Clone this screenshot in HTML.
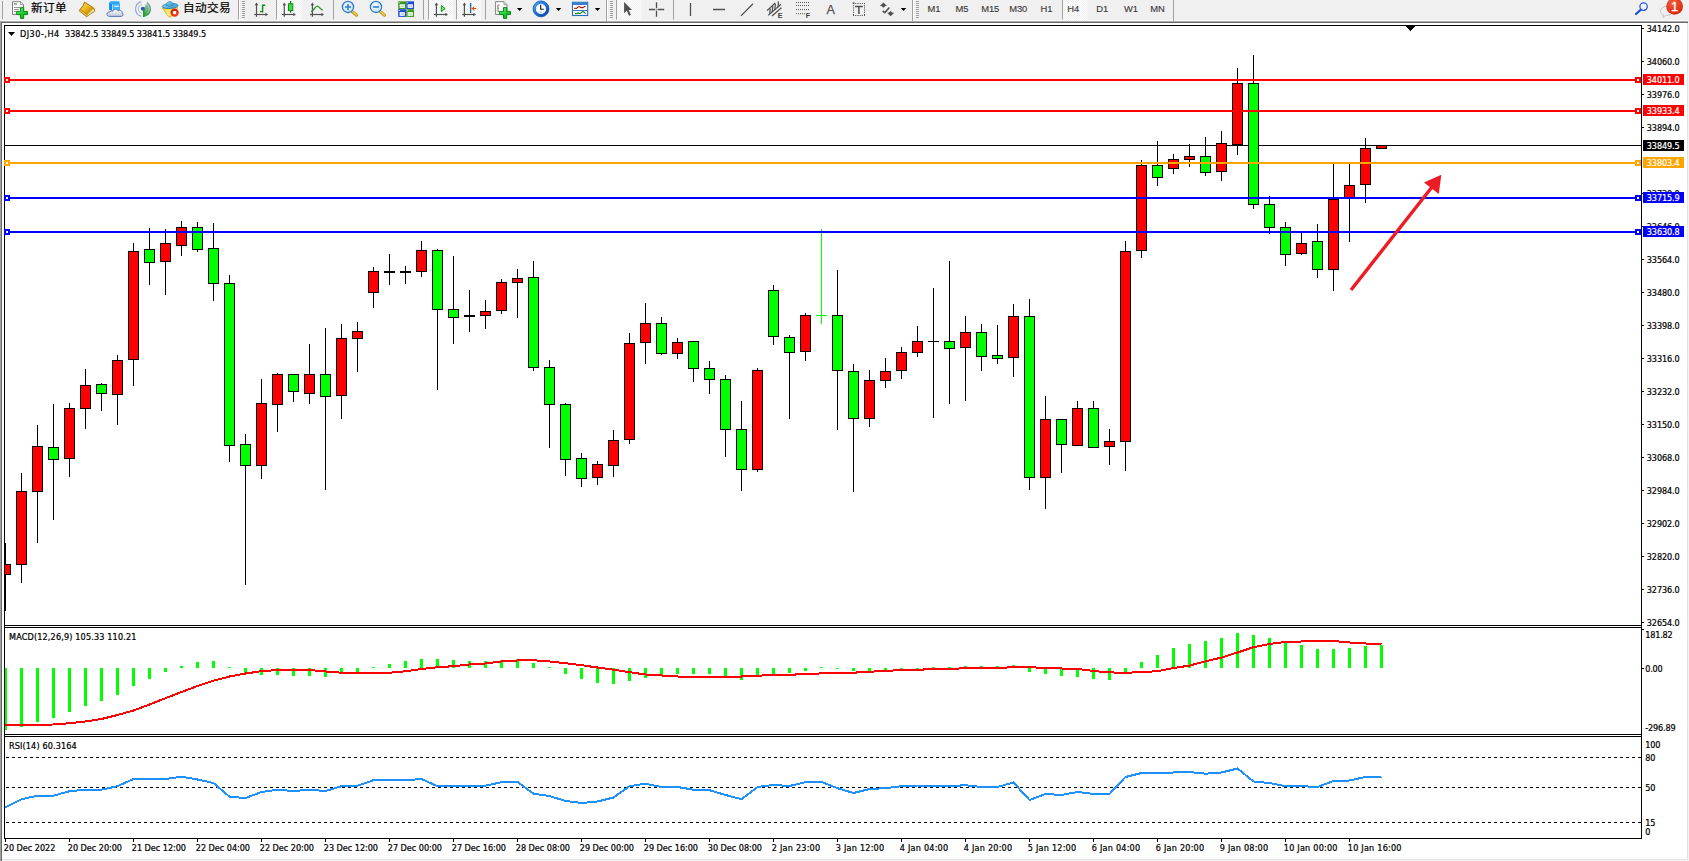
<!DOCTYPE html>
<html lang="zh"><head><meta charset="utf-8"><title>DJ30-,H4</title>
<style>
html,body{margin:0;padding:0;background:#fff;}
body{width:1689px;height:861px;overflow:hidden;position:relative;font-family:"Liberation Sans","Noto Sans CJK SC",sans-serif;}
svg{position:absolute;left:0;top:0;display:block}
text{font-family:"DejaVu Sans Condensed","Liberation Sans","Noto Sans CJK SC",sans-serif;font-size:9px;letter-spacing:-0.06px;fill:#000;stroke:#000;stroke-width:0.22px}
.lib{font-family:"Liberation Sans","Noto Sans CJK SC",sans-serif}
.w{fill:#fff;stroke:#fff}
.tb{font-family:"Liberation Sans","Noto Sans CJK SC",sans-serif;font-size:11.6px;fill:#000;letter-spacing:0.42px;stroke:#000;stroke-width:0.2px}
.tf{font-family:"Liberation Sans","Noto Sans CJK SC",sans-serif;stroke-width:0.15px;font-size:9.4px;letter-spacing:-0.1px;fill:#3c3c3c;stroke:#3c3c3c}
.cr{shape-rendering:crispEdges}
</style></head><body>
<svg width="1689" height="861" viewBox="0 0 1689 861">
<rect x="0" y="0" width="1689" height="861" fill="#f0f0f0"/>
<rect x="0" y="20" width="1688" height="1" fill="#f8f8f8"/>
<rect x="0" y="21" width="1688" height="1" fill="#aaaaaa"/>
<rect x="0" y="22" width="1688" height="1" fill="#6c6c6c"/>
<rect x="0" y="22" width="1" height="839" fill="#a0a0a0"/>
<rect x="1" y="22" width="1" height="839" fill="#696969"/>
<rect x="2" y="23" width="1685" height="836" fill="#fff"/>
<rect x="1687" y="23" width="1" height="837" fill="#e3e3e3"/>
<rect x="2" y="859" width="1686" height="1" fill="#e3e3e3"/>
<rect x="2" y="860" width="1687" height="1" fill="#f4f4f4"/>
<rect x="1688" y="22" width="1" height="839" fill="#f4f4f4"/>
<g class="cr" fill="#000">
<rect x="4" y="25" width="1" height="814"/>
<rect x="1641" y="25" width="1" height="814"/>
<rect x="4" y="25" width="1638" height="1"/>
<rect x="4" y="625" width="1638" height="1"/>
<rect x="4" y="627" width="1638" height="1"/>
<rect x="4" y="734" width="1638" height="1"/>
<rect x="4" y="736" width="1638" height="1"/>
<rect x="4" y="838" width="1638" height="1"/>
</g>
<path class="cr" d="M1405.5 26 L1415.5 26 L1410.5 31 Z" fill="#000"/>
<rect class="cr" x="5" y="145" width="1636" height="1" fill="#000"/>
<g class="cr">
<rect x="5.0" y="543" width="1" height="68.0" fill="#000"/>
<rect x="5" y="564" width="5.5" height="11.0" fill="#000"/>
<rect x="5" y="565.0" width="4.5" height="9.0" fill="#ff0000"/>
<rect x="21.0" y="473" width="1" height="110.0" fill="#000"/>
<rect x="16.0" y="491" width="11" height="74.0" fill="#000"/>
<rect x="17.0" y="492.0" width="9" height="72.0" fill="#ff0000"/>
<rect x="37.0" y="425" width="1" height="118.0" fill="#000"/>
<rect x="32.0" y="446" width="11" height="46.0" fill="#000"/>
<rect x="33.0" y="447.0" width="9" height="44.0" fill="#ff0000"/>
<rect x="53.0" y="404" width="1" height="116.0" fill="#000"/>
<rect x="48.0" y="447" width="11" height="13.0" fill="#000"/>
<rect x="49.0" y="448.0" width="9" height="11.0" fill="#00ff00"/>
<rect x="69.0" y="403" width="1" height="74.0" fill="#000"/>
<rect x="64.0" y="408" width="11" height="51.0" fill="#000"/>
<rect x="65.0" y="409.0" width="9" height="49.0" fill="#ff0000"/>
<rect x="85.0" y="369" width="1" height="60.0" fill="#000"/>
<rect x="80.0" y="385" width="11" height="24.0" fill="#000"/>
<rect x="81.0" y="386.0" width="9" height="22.0" fill="#ff0000"/>
<rect x="101.0" y="383" width="1" height="28.0" fill="#000"/>
<rect x="96.0" y="384" width="11" height="10.0" fill="#000"/>
<rect x="97.0" y="385.0" width="9" height="8.0" fill="#00ff00"/>
<rect x="117.0" y="355" width="1" height="70.0" fill="#000"/>
<rect x="112.0" y="360" width="11" height="35.0" fill="#000"/>
<rect x="113.0" y="361.0" width="9" height="33.0" fill="#ff0000"/>
<rect x="133.0" y="243" width="1" height="143.0" fill="#000"/>
<rect x="128.0" y="251" width="11" height="109.0" fill="#000"/>
<rect x="129.0" y="252.0" width="9" height="107.0" fill="#ff0000"/>
<rect x="149.0" y="228" width="1" height="57.0" fill="#000"/>
<rect x="144.0" y="249" width="11" height="14.0" fill="#000"/>
<rect x="145.0" y="250.0" width="9" height="12.0" fill="#00ff00"/>
<rect x="165.0" y="229" width="1" height="66.0" fill="#000"/>
<rect x="160.0" y="243" width="11" height="19.0" fill="#000"/>
<rect x="161.0" y="244.0" width="9" height="17.0" fill="#ff0000"/>
<rect x="181.0" y="221" width="1" height="35.0" fill="#000"/>
<rect x="176.0" y="227" width="11" height="19.0" fill="#000"/>
<rect x="177.0" y="228.0" width="9" height="17.0" fill="#ff0000"/>
<rect x="197.0" y="222" width="1" height="30.0" fill="#000"/>
<rect x="192.0" y="227" width="11" height="23.0" fill="#000"/>
<rect x="193.0" y="228.0" width="9" height="21.0" fill="#00ff00"/>
<rect x="213.0" y="223" width="1" height="78.0" fill="#000"/>
<rect x="208.0" y="248" width="11" height="36.0" fill="#000"/>
<rect x="209.0" y="249.0" width="9" height="34.0" fill="#00ff00"/>
<rect x="229.0" y="275" width="1" height="187.0" fill="#000"/>
<rect x="224.0" y="283" width="11" height="163.0" fill="#000"/>
<rect x="225.0" y="284.0" width="9" height="161.0" fill="#00ff00"/>
<rect x="245.0" y="434" width="1" height="151.0" fill="#000"/>
<rect x="240.0" y="444" width="11" height="22.0" fill="#000"/>
<rect x="241.0" y="445.0" width="9" height="20.0" fill="#00ff00"/>
<rect x="261.0" y="379" width="1" height="100.0" fill="#000"/>
<rect x="256.0" y="403" width="11" height="63.0" fill="#000"/>
<rect x="257.0" y="404.0" width="9" height="61.0" fill="#ff0000"/>
<rect x="277.0" y="373" width="1" height="59.0" fill="#000"/>
<rect x="272.0" y="374" width="11" height="31.0" fill="#000"/>
<rect x="273.0" y="375.0" width="9" height="29.0" fill="#ff0000"/>
<rect x="293.0" y="374" width="1" height="28.0" fill="#000"/>
<rect x="288.0" y="374" width="11" height="18.0" fill="#000"/>
<rect x="289.0" y="375.0" width="9" height="16.0" fill="#00ff00"/>
<rect x="309.0" y="344" width="1" height="60.0" fill="#000"/>
<rect x="304.0" y="374" width="11" height="20.0" fill="#000"/>
<rect x="305.0" y="375.0" width="9" height="18.0" fill="#ff0000"/>
<rect x="325.0" y="328" width="1" height="162.0" fill="#000"/>
<rect x="320.0" y="374" width="11" height="23.0" fill="#000"/>
<rect x="321.0" y="375.0" width="9" height="21.0" fill="#00ff00"/>
<rect x="341.0" y="324" width="1" height="95.0" fill="#000"/>
<rect x="336.0" y="338" width="11" height="58.0" fill="#000"/>
<rect x="337.0" y="339.0" width="9" height="56.0" fill="#ff0000"/>
<rect x="357.0" y="322" width="1" height="50.0" fill="#000"/>
<rect x="352.0" y="331" width="11" height="8.0" fill="#000"/>
<rect x="353.0" y="332.0" width="9" height="6.0" fill="#ff0000"/>
<rect x="373.0" y="267" width="1" height="41.0" fill="#000"/>
<rect x="368.0" y="271" width="11" height="22.0" fill="#000"/>
<rect x="369.0" y="272.0" width="9" height="20.0" fill="#ff0000"/>
<rect x="389.0" y="254" width="1" height="31.0" fill="#000"/>
<rect x="384.0" y="270.7" width="11" height="2.0" fill="#000"/>
<rect x="405.0" y="266" width="1" height="18.0" fill="#000"/>
<rect x="400.0" y="270.7" width="11" height="2.0" fill="#000"/>
<rect x="421.0" y="241" width="1" height="36.0" fill="#000"/>
<rect x="416.0" y="250" width="11" height="22.0" fill="#000"/>
<rect x="417.0" y="251.0" width="9" height="20.0" fill="#ff0000"/>
<rect x="437.0" y="249" width="1" height="141.0" fill="#000"/>
<rect x="432.0" y="250" width="11" height="60.0" fill="#000"/>
<rect x="433.0" y="251.0" width="9" height="58.0" fill="#00ff00"/>
<rect x="453.0" y="256" width="1" height="88.0" fill="#000"/>
<rect x="448.0" y="309" width="11" height="9.0" fill="#000"/>
<rect x="449.0" y="310.0" width="9" height="7.0" fill="#00ff00"/>
<rect x="469.0" y="290" width="1" height="42.0" fill="#000"/>
<rect x="464.0" y="315" width="11" height="2.0" fill="#000"/>
<rect x="485.0" y="300" width="1" height="29.0" fill="#000"/>
<rect x="480.0" y="311" width="11" height="5.0" fill="#000"/>
<rect x="481.0" y="312.0" width="9" height="3.0" fill="#ff0000"/>
<rect x="501.0" y="279" width="1" height="35.0" fill="#000"/>
<rect x="496.0" y="282" width="11" height="29.0" fill="#000"/>
<rect x="497.0" y="283.0" width="9" height="27.0" fill="#ff0000"/>
<rect x="517.0" y="269" width="1" height="49.0" fill="#000"/>
<rect x="512.0" y="278" width="11" height="5.0" fill="#000"/>
<rect x="513.0" y="279.0" width="9" height="3.0" fill="#ff0000"/>
<rect x="533.0" y="261" width="1" height="110.0" fill="#000"/>
<rect x="528.0" y="277" width="11" height="91.0" fill="#000"/>
<rect x="529.0" y="278.0" width="9" height="89.0" fill="#00ff00"/>
<rect x="549.0" y="360" width="1" height="88.0" fill="#000"/>
<rect x="544.0" y="367" width="11" height="38.0" fill="#000"/>
<rect x="545.0" y="368.0" width="9" height="36.0" fill="#00ff00"/>
<rect x="565.0" y="403" width="1" height="73.0" fill="#000"/>
<rect x="560.0" y="404" width="11" height="56.0" fill="#000"/>
<rect x="561.0" y="405.0" width="9" height="54.0" fill="#00ff00"/>
<rect x="581.0" y="453" width="1" height="34.0" fill="#000"/>
<rect x="576.0" y="458" width="11" height="21.0" fill="#000"/>
<rect x="577.0" y="459.0" width="9" height="19.0" fill="#00ff00"/>
<rect x="597.0" y="461" width="1" height="24.0" fill="#000"/>
<rect x="592.0" y="464" width="11" height="14.0" fill="#000"/>
<rect x="593.0" y="465.0" width="9" height="12.0" fill="#ff0000"/>
<rect x="613.0" y="430" width="1" height="47.0" fill="#000"/>
<rect x="608.0" y="440" width="11" height="26.0" fill="#000"/>
<rect x="609.0" y="441.0" width="9" height="24.0" fill="#ff0000"/>
<rect x="629.0" y="333" width="1" height="111.0" fill="#000"/>
<rect x="624.0" y="343" width="11" height="97.0" fill="#000"/>
<rect x="625.0" y="344.0" width="9" height="95.0" fill="#ff0000"/>
<rect x="645.0" y="303" width="1" height="61.0" fill="#000"/>
<rect x="640.0" y="323" width="11" height="20.0" fill="#000"/>
<rect x="641.0" y="324.0" width="9" height="18.0" fill="#ff0000"/>
<rect x="661.0" y="317" width="1" height="38.0" fill="#000"/>
<rect x="656.0" y="323" width="11" height="31.0" fill="#000"/>
<rect x="657.0" y="324.0" width="9" height="29.0" fill="#00ff00"/>
<rect x="677.0" y="338" width="1" height="21.0" fill="#000"/>
<rect x="672.0" y="342" width="11" height="12.0" fill="#000"/>
<rect x="673.0" y="343.0" width="9" height="10.0" fill="#ff0000"/>
<rect x="693.0" y="341" width="1" height="41.0" fill="#000"/>
<rect x="688.0" y="341" width="11" height="28.0" fill="#000"/>
<rect x="689.0" y="342.0" width="9" height="26.0" fill="#00ff00"/>
<rect x="709.0" y="361" width="1" height="33.0" fill="#000"/>
<rect x="704.0" y="368" width="11" height="12.0" fill="#000"/>
<rect x="705.0" y="369.0" width="9" height="10.0" fill="#00ff00"/>
<rect x="725.0" y="375" width="1" height="82.0" fill="#000"/>
<rect x="720.0" y="379" width="11" height="51.0" fill="#000"/>
<rect x="721.0" y="380.0" width="9" height="49.0" fill="#00ff00"/>
<rect x="741.0" y="401" width="1" height="90.0" fill="#000"/>
<rect x="736.0" y="429" width="11" height="41.0" fill="#000"/>
<rect x="737.0" y="430.0" width="9" height="39.0" fill="#00ff00"/>
<rect x="757.0" y="368" width="1" height="104.0" fill="#000"/>
<rect x="752.0" y="370" width="11" height="100.0" fill="#000"/>
<rect x="753.0" y="371.0" width="9" height="98.0" fill="#ff0000"/>
<rect x="773.0" y="285" width="1" height="60.0" fill="#000"/>
<rect x="768.0" y="290" width="11" height="47.0" fill="#000"/>
<rect x="769.0" y="291.0" width="9" height="45.0" fill="#00ff00"/>
<rect x="789.0" y="335" width="1" height="84.0" fill="#000"/>
<rect x="784.0" y="337" width="11" height="16.0" fill="#000"/>
<rect x="785.0" y="338.0" width="9" height="14.0" fill="#00ff00"/>
<rect x="805.0" y="313" width="1" height="48.0" fill="#000"/>
<rect x="800.0" y="315" width="11" height="37.0" fill="#000"/>
<rect x="801.0" y="316.0" width="9" height="35.0" fill="#ff0000"/>
<rect x="821.0" y="229" width="1" height="95.0" fill="#00ff00"/>
<rect x="816.0" y="315" width="11" height="1" fill="#00ff00"/>
<rect x="837.0" y="270" width="1" height="160.0" fill="#000"/>
<rect x="832.0" y="315" width="11" height="56.0" fill="#000"/>
<rect x="833.0" y="316.0" width="9" height="54.0" fill="#00ff00"/>
<rect x="853.0" y="364" width="1" height="128.0" fill="#000"/>
<rect x="848.0" y="371" width="11" height="48.0" fill="#000"/>
<rect x="849.0" y="372.0" width="9" height="46.0" fill="#00ff00"/>
<rect x="869.0" y="370" width="1" height="57.0" fill="#000"/>
<rect x="864.0" y="380" width="11" height="39.0" fill="#000"/>
<rect x="865.0" y="381.0" width="9" height="37.0" fill="#ff0000"/>
<rect x="885.0" y="358" width="1" height="30.0" fill="#000"/>
<rect x="880.0" y="371" width="11" height="10.0" fill="#000"/>
<rect x="881.0" y="372.0" width="9" height="8.0" fill="#ff0000"/>
<rect x="901.0" y="347" width="1" height="32.0" fill="#000"/>
<rect x="896.0" y="352" width="11" height="19.0" fill="#000"/>
<rect x="897.0" y="353.0" width="9" height="17.0" fill="#ff0000"/>
<rect x="917.0" y="326" width="1" height="31.0" fill="#000"/>
<rect x="912.0" y="341" width="11" height="12.0" fill="#000"/>
<rect x="913.0" y="342.0" width="9" height="10.0" fill="#ff0000"/>
<rect x="933.0" y="288" width="1" height="130.0" fill="#000"/>
<rect x="928.0" y="341" width="11" height="1.0" fill="#000"/>
<rect x="949.0" y="261" width="1" height="143.0" fill="#000"/>
<rect x="944.0" y="341" width="11" height="8.0" fill="#000"/>
<rect x="945.0" y="342.0" width="9" height="6.0" fill="#00ff00"/>
<rect x="965.0" y="316" width="1" height="85.0" fill="#000"/>
<rect x="960.0" y="332" width="11" height="16.0" fill="#000"/>
<rect x="961.0" y="333.0" width="9" height="14.0" fill="#ff0000"/>
<rect x="981.0" y="324" width="1" height="47.0" fill="#000"/>
<rect x="976.0" y="332" width="11" height="25.0" fill="#000"/>
<rect x="977.0" y="333.0" width="9" height="23.0" fill="#00ff00"/>
<rect x="997.0" y="325" width="1" height="39.0" fill="#000"/>
<rect x="992.0" y="355" width="11" height="4.0" fill="#000"/>
<rect x="993.0" y="356.0" width="9" height="2.0" fill="#00ff00"/>
<rect x="1013.0" y="304" width="1" height="73.0" fill="#000"/>
<rect x="1008.0" y="316" width="11" height="42.0" fill="#000"/>
<rect x="1009.0" y="317.0" width="9" height="40.0" fill="#ff0000"/>
<rect x="1029.0" y="299" width="1" height="191.0" fill="#000"/>
<rect x="1024.0" y="316" width="11" height="162.0" fill="#000"/>
<rect x="1025.0" y="317.0" width="9" height="160.0" fill="#00ff00"/>
<rect x="1045.0" y="396" width="1" height="113.0" fill="#000"/>
<rect x="1040.0" y="419" width="11" height="59.0" fill="#000"/>
<rect x="1041.0" y="420.0" width="9" height="57.0" fill="#ff0000"/>
<rect x="1061.0" y="419" width="1" height="54.0" fill="#000"/>
<rect x="1056.0" y="419" width="11" height="26.0" fill="#000"/>
<rect x="1057.0" y="420.0" width="9" height="24.0" fill="#00ff00"/>
<rect x="1077.0" y="401" width="1" height="45.0" fill="#000"/>
<rect x="1072.0" y="408" width="11" height="38.0" fill="#000"/>
<rect x="1073.0" y="409.0" width="9" height="36.0" fill="#ff0000"/>
<rect x="1093.0" y="401" width="1" height="47.0" fill="#000"/>
<rect x="1088.0" y="408" width="11" height="40.0" fill="#000"/>
<rect x="1089.0" y="409.0" width="9" height="38.0" fill="#00ff00"/>
<rect x="1109.0" y="429" width="1" height="36.0" fill="#000"/>
<rect x="1104.0" y="441" width="11" height="6.0" fill="#000"/>
<rect x="1105.0" y="442.0" width="9" height="4.0" fill="#ff0000"/>
<rect x="1125.0" y="241" width="1" height="230.0" fill="#000"/>
<rect x="1120.0" y="251" width="11" height="191.0" fill="#000"/>
<rect x="1121.0" y="252.0" width="9" height="189.0" fill="#ff0000"/>
<rect x="1141.0" y="160" width="1" height="98.0" fill="#000"/>
<rect x="1136.0" y="165" width="11" height="86.0" fill="#000"/>
<rect x="1137.0" y="166.0" width="9" height="84.0" fill="#ff0000"/>
<rect x="1157.0" y="141" width="1" height="45.0" fill="#000"/>
<rect x="1152.0" y="165" width="11" height="13.0" fill="#000"/>
<rect x="1153.0" y="166.0" width="9" height="11.0" fill="#00ff00"/>
<rect x="1173.0" y="154" width="1" height="20.0" fill="#000"/>
<rect x="1168.0" y="159" width="11" height="10.0" fill="#000"/>
<rect x="1169.0" y="160.0" width="9" height="8.0" fill="#ff0000"/>
<rect x="1189.0" y="144" width="1" height="23.0" fill="#000"/>
<rect x="1184.0" y="156" width="11" height="4.0" fill="#000"/>
<rect x="1185.0" y="157.0" width="9" height="2.0" fill="#ff0000"/>
<rect x="1205.0" y="137" width="1" height="39.0" fill="#000"/>
<rect x="1200.0" y="156" width="11" height="17.0" fill="#000"/>
<rect x="1201.0" y="157.0" width="9" height="15.0" fill="#00ff00"/>
<rect x="1221.0" y="131" width="1" height="50.0" fill="#000"/>
<rect x="1216.0" y="143" width="11" height="29.0" fill="#000"/>
<rect x="1217.0" y="144.0" width="9" height="27.0" fill="#ff0000"/>
<rect x="1237.0" y="68" width="1" height="87.0" fill="#000"/>
<rect x="1232.0" y="83" width="11" height="62.0" fill="#000"/>
<rect x="1233.0" y="84.0" width="9" height="60.0" fill="#ff0000"/>
<rect x="1253.0" y="55" width="1" height="154.0" fill="#000"/>
<rect x="1248.0" y="83" width="11" height="122.0" fill="#000"/>
<rect x="1249.0" y="84.0" width="9" height="120.0" fill="#00ff00"/>
<rect x="1269.0" y="196" width="1" height="38.0" fill="#000"/>
<rect x="1264.0" y="204" width="11" height="24.0" fill="#000"/>
<rect x="1265.0" y="205.0" width="9" height="22.0" fill="#00ff00"/>
<rect x="1285.0" y="222" width="1" height="44.0" fill="#000"/>
<rect x="1280.0" y="227" width="11" height="28.0" fill="#000"/>
<rect x="1281.0" y="228.0" width="9" height="26.0" fill="#00ff00"/>
<rect x="1301.0" y="233" width="1" height="22.0" fill="#000"/>
<rect x="1296.0" y="243" width="11" height="11.0" fill="#000"/>
<rect x="1297.0" y="244.0" width="9" height="9.0" fill="#ff0000"/>
<rect x="1317.0" y="224" width="1" height="54.0" fill="#000"/>
<rect x="1312.0" y="241" width="11" height="29.0" fill="#000"/>
<rect x="1313.0" y="242.0" width="9" height="27.0" fill="#00ff00"/>
<rect x="1333.0" y="164" width="1" height="127.0" fill="#000"/>
<rect x="1328.0" y="199" width="11" height="71.0" fill="#000"/>
<rect x="1329.0" y="200.0" width="9" height="69.0" fill="#ff0000"/>
<rect x="1349.0" y="164" width="1" height="78.0" fill="#000"/>
<rect x="1344.0" y="185" width="11" height="14.0" fill="#000"/>
<rect x="1345.0" y="186.0" width="9" height="12.0" fill="#ff0000"/>
<rect x="1365.0" y="138" width="1" height="65.0" fill="#000"/>
<rect x="1360.0" y="148" width="11" height="37.0" fill="#000"/>
<rect x="1361.0" y="149.0" width="9" height="35.0" fill="#ff0000"/>
<rect x="1381.0" y="145" width="1" height="4.0" fill="#000"/>
<rect x="1376.0" y="145" width="11" height="4.0" fill="#000"/>
<rect x="1377.0" y="146.0" width="9" height="2.0" fill="#ff0000"/>
</g>
<g class="cr">
<rect x="5" y="79" width="1636" height="2" fill="#ff0000"/>
<rect x="4" y="77" width="6" height="6" fill="#ff0000"/><rect x="6" y="79" width="2" height="2" fill="#fff"/>
<rect x="1635" y="77" width="6" height="6" fill="#ff0000"/><rect x="1637" y="79" width="2" height="2" fill="#fff"/>
<rect x="5" y="110" width="1636" height="2" fill="#ff0000"/>
<rect x="4" y="108" width="6" height="6" fill="#ff0000"/><rect x="6" y="110" width="2" height="2" fill="#fff"/>
<rect x="1635" y="108" width="6" height="6" fill="#ff0000"/><rect x="1637" y="110" width="2" height="2" fill="#fff"/>
<rect x="5" y="162" width="1636" height="2" fill="#ffa500"/>
<rect x="4" y="160" width="6" height="6" fill="#ffa500"/><rect x="6" y="162" width="2" height="2" fill="#fff"/>
<rect x="1635" y="160" width="6" height="6" fill="#ffa500"/><rect x="1637" y="162" width="2" height="2" fill="#fff"/>
<rect x="5" y="197" width="1636" height="2" fill="#0000ff"/>
<rect x="4" y="195" width="6" height="6" fill="#0000ff"/><rect x="6" y="197" width="2" height="2" fill="#fff"/>
<rect x="1635" y="195" width="6" height="6" fill="#0000ff"/><rect x="1637" y="197" width="2" height="2" fill="#fff"/>
<rect x="5" y="231" width="1636" height="2" fill="#0000ff"/>
<rect x="4" y="229" width="6" height="6" fill="#0000ff"/><rect x="6" y="231" width="2" height="2" fill="#fff"/>
<rect x="1635" y="229" width="6" height="6" fill="#0000ff"/><rect x="1637" y="231" width="2" height="2" fill="#fff"/>
</g>
<path d="M1351 290 L1432 187" stroke="#ed1c24" stroke-width="3.4" fill="none"/>
<path d="M1441.3 174.8 L1424 182.6 L1438.8 194 Z" fill="#ed1c24"/>
<rect x="1642" y="28.0" width="2" height="1" fill="#000"/>
<text x="1646.8" y="32.0" style="letter-spacing:-0.11px">34142.0</text>
<rect x="1642" y="61.0" width="2" height="1" fill="#000"/>
<text x="1646.8" y="65.0" style="letter-spacing:-0.11px">34060.0</text>
<rect x="1642" y="94.0" width="2" height="1" fill="#000"/>
<text x="1646.8" y="98.0" style="letter-spacing:-0.11px">33976.0</text>
<rect x="1642" y="127.0" width="2" height="1" fill="#000"/>
<text x="1646.8" y="131.0" style="letter-spacing:-0.11px">33894.0</text>
<rect x="1642" y="193.0" width="2" height="1" fill="#000"/>
<text x="1646.8" y="197.0" style="letter-spacing:-0.11px">33730.0</text>
<rect x="1642" y="226.0" width="2" height="1" fill="#000"/>
<text x="1646.8" y="230.0" style="letter-spacing:-0.11px">33646.0</text>
<rect x="1642" y="259.0" width="2" height="1" fill="#000"/>
<text x="1646.8" y="263.0" style="letter-spacing:-0.11px">33564.0</text>
<rect x="1642" y="292.0" width="2" height="1" fill="#000"/>
<text x="1646.8" y="296.0" style="letter-spacing:-0.11px">33480.0</text>
<rect x="1642" y="325.0" width="2" height="1" fill="#000"/>
<text x="1646.8" y="329.0" style="letter-spacing:-0.11px">33398.0</text>
<rect x="1642" y="358.0" width="2" height="1" fill="#000"/>
<text x="1646.8" y="362.0" style="letter-spacing:-0.11px">33316.0</text>
<rect x="1642" y="391.0" width="2" height="1" fill="#000"/>
<text x="1646.8" y="395.0" style="letter-spacing:-0.11px">33232.0</text>
<rect x="1642" y="424.0" width="2" height="1" fill="#000"/>
<text x="1646.8" y="428.0" style="letter-spacing:-0.11px">33150.0</text>
<rect x="1642" y="457.0" width="2" height="1" fill="#000"/>
<text x="1646.8" y="461.0" style="letter-spacing:-0.11px">33068.0</text>
<rect x="1642" y="490.0" width="2" height="1" fill="#000"/>
<text x="1646.8" y="494.0" style="letter-spacing:-0.11px">32984.0</text>
<rect x="1642" y="523.0" width="2" height="1" fill="#000"/>
<text x="1646.8" y="527.0" style="letter-spacing:-0.11px">32902.0</text>
<rect x="1642" y="556.0" width="2" height="1" fill="#000"/>
<text x="1646.8" y="560.0" style="letter-spacing:-0.11px">32820.0</text>
<rect x="1642" y="589.0" width="2" height="1" fill="#000"/>
<text x="1646.8" y="593.0" style="letter-spacing:-0.11px">32736.0</text>
<rect x="1642" y="622.0" width="2" height="1" fill="#000"/>
<text x="1646.8" y="626.0" style="letter-spacing:-0.11px">32654.0</text>
<rect class="cr" x="1643" y="74" width="41" height="11" fill="#ff0000"/>
<text class="w" x="1646.8" y="83.0" style="letter-spacing:-0.11px">34011.0</text>
<rect class="cr" x="1643" y="105" width="41" height="11" fill="#ff0000"/>
<text class="w" x="1646.8" y="114.0" style="letter-spacing:-0.11px">33933.4</text>
<rect class="cr" x="1643" y="157" width="41" height="11" fill="#ffa500"/>
<text class="w" x="1646.8" y="166.0" style="letter-spacing:-0.11px">33803.4</text>
<rect class="cr" x="1643" y="192" width="41" height="11" fill="#0000ff"/>
<text class="w" x="1646.8" y="201.0" style="letter-spacing:-0.11px">33715.9</text>
<rect class="cr" x="1643" y="226" width="41" height="11" fill="#0000ff"/>
<text class="w" x="1646.8" y="235.0" style="letter-spacing:-0.11px">33630.8</text>
<rect class="cr" x="1643" y="140" width="41" height="11" fill="#000"/>
<text class="w" x="1646.8" y="149.0" style="letter-spacing:-0.11px">33849.5</text>
<path d="M8 32 L15 32 L11.5 36 Z" fill="#000"/>
<text x="20" y="37.2" style="letter-spacing:0.5px">DJ30-,H4</text>
<text x="65.1" y="37.2" style="letter-spacing:-0.02px">33842.5 33849.5 33841.5 33849.5</text>
<g class="cr" fill="#00ff00">
<rect x="5" y="668.0" width="2" height="61.5"/>
<rect x="20.0" y="668.0" width="3" height="58.5"/>
<rect x="36.0" y="668.0" width="3" height="53.5"/>
<rect x="52.0" y="668.0" width="3" height="49.5"/>
<rect x="68.0" y="668.0" width="3" height="43.5"/>
<rect x="84.0" y="668.0" width="3" height="37.5"/>
<rect x="100.0" y="668.0" width="3" height="32.5"/>
<rect x="116.0" y="668.0" width="3" height="26.5"/>
<rect x="132.0" y="668.0" width="3" height="17.5"/>
<rect x="148.0" y="668.0" width="3" height="10.5"/>
<rect x="164.0" y="668.0" width="3" height="3.5"/>
<rect x="180.0" y="666.0" width="3" height="2.0"/>
<rect x="196.0" y="662.0" width="3" height="6.0"/>
<rect x="212.0" y="661.2" width="3" height="6.8"/>
<rect x="228.0" y="667.0" width="3" height="1.0"/>
<rect x="244.0" y="668.0" width="3" height="5.0"/>
<rect x="260.0" y="668.0" width="3" height="6.7"/>
<rect x="276.0" y="668.0" width="3" height="6.7"/>
<rect x="292.0" y="668.0" width="3" height="7.7"/>
<rect x="308.0" y="668.0" width="3" height="7.7"/>
<rect x="324.0" y="668.0" width="3" height="8.7"/>
<rect x="340.0" y="668.0" width="3" height="5.0"/>
<rect x="356.0" y="668.0" width="3" height="4.0"/>
<rect x="372.0" y="667.0" width="3" height="1.0"/>
<rect x="388.0" y="664.0" width="3" height="4.0"/>
<rect x="404.0" y="661.2" width="3" height="6.8"/>
<rect x="420.0" y="659.0" width="3" height="9.0"/>
<rect x="436.0" y="659.0" width="3" height="9.0"/>
<rect x="452.0" y="660.2" width="3" height="7.8"/>
<rect x="468.0" y="661.2" width="3" height="6.8"/>
<rect x="484.0" y="661.2" width="3" height="6.8"/>
<rect x="500.0" y="660.2" width="3" height="7.8"/>
<rect x="516.0" y="659.2" width="3" height="8.8"/>
<rect x="532.0" y="663.2" width="3" height="4.8"/>
<rect x="548.0" y="667.0" width="3" height="1.0"/>
<rect x="564.0" y="668.0" width="3" height="5.7"/>
<rect x="580.0" y="668.0" width="3" height="10.7"/>
<rect x="596.0" y="668.0" width="3" height="14.7"/>
<rect x="612.0" y="668.0" width="3" height="15.7"/>
<rect x="628.0" y="668.0" width="3" height="12.7"/>
<rect x="644.0" y="668.0" width="3" height="9.7"/>
<rect x="660.0" y="668.0" width="3" height="6.7"/>
<rect x="676.0" y="668.0" width="3" height="5.7"/>
<rect x="692.0" y="668.0" width="3" height="5.7"/>
<rect x="708.0" y="668.0" width="3" height="5.7"/>
<rect x="724.0" y="668.0" width="3" height="7.7"/>
<rect x="740.0" y="668.0" width="3" height="11.7"/>
<rect x="756.0" y="668.0" width="3" height="8.7"/>
<rect x="772.0" y="668.0" width="3" height="6.7"/>
<rect x="788.0" y="668.0" width="3" height="4.7"/>
<rect x="804.0" y="668.0" width="3" height="2.7"/>
<rect x="820.0" y="667.0" width="3" height="1.0"/>
<rect x="836.0" y="668.0" width="3" height="0.7"/>
<rect x="852.0" y="668.0" width="3" height="2.7"/>
<rect x="868.0" y="668.0" width="3" height="3.7"/>
<rect x="884.0" y="668.0" width="3" height="2.7"/>
<rect x="900.0" y="668.0" width="3" height="2.0"/>
<rect x="916.0" y="668.0" width="3" height="1.5"/>
<rect x="932.0" y="667.0" width="3" height="1.0"/>
<rect x="948.0" y="667.0" width="3" height="1.0"/>
<rect x="964.0" y="666.0" width="3" height="2.0"/>
<rect x="980.0" y="666.0" width="3" height="2.0"/>
<rect x="996.0" y="666.0" width="3" height="2.0"/>
<rect x="1012.0" y="665.0" width="3" height="3.0"/>
<rect x="1028.0" y="668.0" width="3" height="3.7"/>
<rect x="1044.0" y="668.0" width="3" height="5.7"/>
<rect x="1060.0" y="668.0" width="3" height="7.7"/>
<rect x="1076.0" y="668.0" width="3" height="8.7"/>
<rect x="1092.0" y="668.0" width="3" height="10.7"/>
<rect x="1108.0" y="668.0" width="3" height="11.7"/>
<rect x="1124.0" y="668.0" width="3" height="4.0"/>
<rect x="1140.0" y="662.0" width="3" height="6.0"/>
<rect x="1156.0" y="655.0" width="3" height="13.0"/>
<rect x="1172.0" y="648.0" width="3" height="20.0"/>
<rect x="1188.0" y="644.0" width="3" height="24.0"/>
<rect x="1204.0" y="641.0" width="3" height="27.0"/>
<rect x="1220.0" y="638.0" width="3" height="30.0"/>
<rect x="1236.0" y="633.0" width="3" height="35.0"/>
<rect x="1252.0" y="635.0" width="3" height="33.0"/>
<rect x="1268.0" y="638.0" width="3" height="30.0"/>
<rect x="1284.0" y="643.0" width="3" height="25.0"/>
<rect x="1300.0" y="645.0" width="3" height="23.0"/>
<rect x="1316.0" y="649.0" width="3" height="19.0"/>
<rect x="1332.0" y="649.0" width="3" height="19.0"/>
<rect x="1348.0" y="648.0" width="3" height="20.0"/>
<rect x="1364.0" y="646.0" width="3" height="22.0"/>
<rect x="1380.0" y="645.0" width="3" height="23.0"/>
</g>
<polyline points="5.0,725.0 21.5,725.0 37.5,724.7 53.5,724.5 69.5,723.2 85.5,721.5 101.5,719.0 117.5,715.0 133.5,710.5 149.5,704.5 165.5,698.2 181.5,692.0 197.5,686.0 213.5,680.7 229.5,676.5 245.5,673.5 261.5,671.2 277.5,670.0 293.5,669.7 309.5,670.0 325.5,671.5 341.5,672.7 357.5,673.0 373.5,673.0 389.5,672.7 405.5,671.3 421.5,669.0 437.5,667.2 453.5,666.2 469.5,664.5 485.5,663.5 501.5,661.5 517.5,660.5 533.5,660.2 549.5,661.5 565.5,663.2 581.5,665.2 597.5,667.5 613.5,669.7 629.5,672.2 645.5,674.5 661.5,675.5 677.5,676.5 693.5,676.5 709.5,676.5 725.5,676.5 741.5,676.5 757.5,675.7 773.5,675.0 789.5,674.7 805.5,674.2 821.5,673.4 837.5,672.7 853.5,672.7 869.5,671.7 885.5,671.0 901.5,670.0 917.5,669.7 933.5,669.2 949.5,669.0 965.5,668.2 981.5,668.0 997.5,668.0 1013.5,667.2 1029.5,667.2 1045.5,668.0 1061.5,668.5 1077.5,669.0 1093.5,671.0 1109.5,672.4 1125.5,672.8 1141.5,672.1 1157.5,671.2 1173.5,668.0 1189.5,665.6 1205.5,661.3 1221.5,657.6 1237.5,652.5 1253.5,647.2 1269.5,644.0 1285.5,642.0 1301.5,641.5 1317.5,640.7 1333.5,641.0 1349.5,642.5 1365.5,643.5 1381.5,644.0" fill="none" stroke="#ff0000" stroke-width="2" stroke-linejoin="round" shape-rendering="crispEdges"/>
<text x="9" y="640.3" style="letter-spacing:0.16px">MACD(12,26,9) 105.33 110.21</text>
<text x="1645.2" y="638.3" style="letter-spacing:-0.15px">181.82</text>
<text x="1645.2" y="672.0" style="letter-spacing:-0.15px">0.00</text>
<text x="1645.2" y="731.0" style="letter-spacing:-0.15px">-296.89</text>
<rect x="1642" y="629" width="2" height="1" fill="#000"/>
<rect x="1642" y="668" width="2" height="1" fill="#000"/>
<line class="cr" x1="6" y1="757.5" x2="1641" y2="757.5" stroke="#000" stroke-width="1" stroke-dasharray="3 3"/>
<line class="cr" x1="6" y1="787.5" x2="1641" y2="787.5" stroke="#000" stroke-width="1" stroke-dasharray="3 3"/>
<line class="cr" x1="6" y1="822.5" x2="1641" y2="822.5" stroke="#000" stroke-width="1" stroke-dasharray="3 3"/>
<polyline points="5.0,807.5 21.5,799.2 37.5,795.7 53.5,795.7 69.5,791.2 85.5,789.7 101.5,789.7 117.5,786.2 133.5,779.0 149.5,779.0 165.5,779.0 181.5,776.7 197.5,779.5 213.5,783.0 229.5,796.7 245.5,798.0 261.5,792.0 277.5,789.7 293.5,791.0 309.5,789.7 325.5,791.0 341.5,786.2 357.5,785.7 373.5,780.2 389.5,780.2 405.5,780.2 421.5,779.0 437.5,786.2 453.5,786.2 469.5,786.2 485.5,785.7 501.5,782.2 517.5,782.0 533.5,793.7 549.5,796.0 565.5,801.0 581.5,803.0 597.5,801.5 613.5,797.5 629.5,786.2 645.5,783.7 661.5,787.0 677.5,787.0 693.5,789.7 709.5,790.2 725.5,795.0 741.5,799.2 757.5,787.0 773.5,785.0 789.5,786.0 805.5,782.2 821.5,782.0 837.5,788.2 853.5,793.0 869.5,789.0 885.5,788.2 901.5,786.2 917.5,785.5 933.5,785.5 949.5,786.2 965.5,785.2 981.5,787.0 997.5,787.0 1013.5,782.5 1029.5,800.0 1045.5,794.0 1061.5,795.0 1077.5,792.0 1093.5,794.0 1109.5,794.0 1125.5,777.0 1141.5,773.0 1157.5,773.0 1173.5,772.5 1189.5,772.0 1205.5,773.7 1221.5,772.5 1237.5,768.5 1253.5,781.5 1269.5,783.0 1285.5,786.2 1301.5,786.2 1317.5,787.0 1333.5,781.0 1349.5,780.5 1365.5,777.0 1381.5,776.7" fill="none" stroke="#1e90ff" stroke-width="2" stroke-linejoin="round" shape-rendering="crispEdges"/>
<text x="9" y="749" style="letter-spacing:0.13px">RSI(14) 60.3164</text>
<text x="1645.2" y="747.5" style="letter-spacing:-0.15px">100</text>
<text x="1645.2" y="761.0" style="letter-spacing:-0.15px">80</text>
<text x="1645.2" y="791.0" style="letter-spacing:-0.15px">50</text>
<text x="1645.2" y="826.0" style="letter-spacing:-0.15px">15</text>
<text x="1645.2" y="835.0" style="letter-spacing:-0.15px">0</text>
<rect class="cr" x="5" y="839" width="1" height="3" fill="#000"/>
<text x="3.8" y="851.1" style="letter-spacing:-0.02px">20 Dec 2022</text>
<rect class="cr" x="69" y="839" width="1" height="3" fill="#000"/>
<text x="67.8" y="851.1" style="letter-spacing:-0.02px">20 Dec 20:00</text>
<rect class="cr" x="133" y="839" width="1" height="3" fill="#000"/>
<text x="131.8" y="851.1" style="letter-spacing:-0.02px">21 Dec 12:00</text>
<rect class="cr" x="197" y="839" width="1" height="3" fill="#000"/>
<text x="195.8" y="851.1" style="letter-spacing:-0.02px">22 Dec 04:00</text>
<rect class="cr" x="261" y="839" width="1" height="3" fill="#000"/>
<text x="259.8" y="851.1" style="letter-spacing:-0.02px">22 Dec 20:00</text>
<rect class="cr" x="325" y="839" width="1" height="3" fill="#000"/>
<text x="323.8" y="851.1" style="letter-spacing:-0.02px">23 Dec 12:00</text>
<rect class="cr" x="389" y="839" width="1" height="3" fill="#000"/>
<text x="387.8" y="851.1" style="letter-spacing:-0.02px">27 Dec 00:00</text>
<rect class="cr" x="453" y="839" width="1" height="3" fill="#000"/>
<text x="451.8" y="851.1" style="letter-spacing:-0.02px">27 Dec 16:00</text>
<rect class="cr" x="517" y="839" width="1" height="3" fill="#000"/>
<text x="515.8" y="851.1" style="letter-spacing:-0.02px">28 Dec 08:00</text>
<rect class="cr" x="581" y="839" width="1" height="3" fill="#000"/>
<text x="579.8" y="851.1" style="letter-spacing:-0.02px">29 Dec 00:00</text>
<rect class="cr" x="645" y="839" width="1" height="3" fill="#000"/>
<text x="643.8" y="851.1" style="letter-spacing:-0.02px">29 Dec 16:00</text>
<rect class="cr" x="709" y="839" width="1" height="3" fill="#000"/>
<text x="707.8" y="851.1" style="letter-spacing:-0.02px">30 Dec 08:00</text>
<rect class="cr" x="773" y="839" width="1" height="3" fill="#000"/>
<text x="771.8" y="851.1" style="letter-spacing:0.22px">2 Jan 23:00</text>
<rect class="cr" x="837" y="839" width="1" height="3" fill="#000"/>
<text x="835.8" y="851.1" style="letter-spacing:0.22px">3 Jan 12:00</text>
<rect class="cr" x="901" y="839" width="1" height="3" fill="#000"/>
<text x="899.8" y="851.1" style="letter-spacing:0.22px">4 Jan 04:00</text>
<rect class="cr" x="965" y="839" width="1" height="3" fill="#000"/>
<text x="963.8" y="851.1" style="letter-spacing:0.22px">4 Jan 20:00</text>
<rect class="cr" x="1029" y="839" width="1" height="3" fill="#000"/>
<text x="1027.8" y="851.1" style="letter-spacing:0.22px">5 Jan 12:00</text>
<rect class="cr" x="1093" y="839" width="1" height="3" fill="#000"/>
<text x="1091.8" y="851.1" style="letter-spacing:0.22px">6 Jan 04:00</text>
<rect class="cr" x="1157" y="839" width="1" height="3" fill="#000"/>
<text x="1155.8" y="851.1" style="letter-spacing:0.22px">6 Jan 20:00</text>
<rect class="cr" x="1221" y="839" width="1" height="3" fill="#000"/>
<text x="1219.8" y="851.1" style="letter-spacing:0.22px">9 Jan 08:00</text>
<rect class="cr" x="1285" y="839" width="1" height="3" fill="#000"/>
<text x="1283.8" y="851.1" style="letter-spacing:0.22px">10 Jan 00:00</text>
<rect class="cr" x="1349" y="839" width="1" height="3" fill="#000"/>
<text x="1347.8" y="851.1" style="letter-spacing:0.22px">10 Jan 16:00</text>
<defs>
<linearGradient id="gp" x1="0" y1="0" x2="1" y2="1"><stop offset="0" stop-color="#7dff7d"/><stop offset="0.5" stop-color="#18d030"/><stop offset="1" stop-color="#0a9a18"/></linearGradient>
<linearGradient id="gold" x1="0" y1="0" x2="1" y2="1"><stop offset="0" stop-color="#ffe36a"/><stop offset="0.5" stop-color="#e9b416"/><stop offset="1" stop-color="#b47a0a"/></linearGradient>
<linearGradient id="blu" x1="0" y1="0" x2="0" y2="1"><stop offset="0" stop-color="#4aa8ff"/><stop offset="1" stop-color="#0a6adf"/></linearGradient>
<radialGradient id="lens" cx="0.4" cy="0.35" r="0.7"><stop offset="0" stop-color="#f4fbff"/><stop offset="1" stop-color="#bfe0f6"/></radialGradient>
<radialGradient id="badge" cx="0.4" cy="0.3" r="0.8"><stop offset="0" stop-color="#f0603c"/><stop offset="1" stop-color="#d81e05"/></radialGradient>
<pattern id="chk" width="2" height="2" patternUnits="userSpaceOnUse"><rect width="2" height="2" fill="#fff"/><rect width="1" height="1" fill="#f0f0f0"/><rect x="1" y="1" width="1" height="1" fill="#f0f0f0"/></pattern>
<linearGradient id="cloud" x1="0" y1="0" x2="0" y2="1"><stop offset="0" stop-color="#ffffff"/><stop offset="1" stop-color="#bcc6dc"/></linearGradient>
<linearGradient id="sig" x1="0.1" y1="1" x2="0.9" y2="0"><stop offset="0" stop-color="#18a020"/><stop offset="0.45" stop-color="#6cbc70"/><stop offset="1" stop-color="#d4e6d4"/></linearGradient>
<linearGradient id="yel" x1="0" y1="0" x2="1" y2="1"><stop offset="0" stop-color="#ffd640"/><stop offset="0.6" stop-color="#fff080"/><stop offset="1" stop-color="#e8b020"/></linearGradient>
<linearGradient id="hat" x1="0" y1="0" x2="1" y2="1"><stop offset="0" stop-color="#8fd0f4"/><stop offset="1" stop-color="#3a98d4"/></linearGradient>
<linearGradient id="stp" x1="0" y1="0" x2="0.3" y2="1"><stop offset="0" stop-color="#c01c00"/><stop offset="1" stop-color="#ff3410"/></linearGradient>
<linearGradient id="clk" x1="0" y1="0" x2="1" y2="1"><stop offset="0" stop-color="#45a2f6"/><stop offset="0.5" stop-color="#1a6fd6"/><stop offset="1" stop-color="#0a47a6"/></linearGradient>
</defs>
<rect x="2" y="1" width="1" height="18" fill="#a0a0a0"/>
<path d="M12.5 1.7 H20.5 L23.5 4.7 V14.5 H12.5 Z" fill="#fff" stroke="#808080" stroke-width="1"/>
<path d="M20.5 1.7 V4.7 H23.5" fill="#e8e8e8" stroke="#808080" stroke-width="0.8"/>
<rect x="14" y="3.3" width="3" height="1.3" fill="#777"/><rect x="14" y="7" width="6" height="1" fill="#999"/><rect x="14" y="9" width="5" height="1" fill="#999"/><rect x="14" y="11" width="3" height="1" fill="#999"/>
<path d="M20.5 7.6 h3.2 v3.8 h3.8 v3.2 h-3.8 v3.8 h-3.2 v-3.8 h-3.8 v-3.2 h3.8 Z" fill="url(#gp)" stroke="#0a8a10" stroke-width="1"/>
<text class="tb" x="31" y="12.2">新订单</text>
<path d="M84.5 2 L93.8 8 L94.9 10.9 L86.7 16.7 L79.1 10.7 L83 5.6 Z" fill="#c8900e" stroke="#a06c0c" stroke-width="0.8" stroke-linejoin="round"/>
<path d="M93.3 8.7 L94.4 10.8 L87.2 15.9 L87.9 14.1 Z" fill="#ece2a8"/>
<path d="M84.9 3 L93 8.3 L87.7 14 L80.9 9.4 L83.6 5.9 Z" fill="url(#gold)"/>
<path d="M80 10.6 L86.9 15.6" stroke="#f4d46a" stroke-width="0.9" fill="none"/>
<path d="M109.1 2.6 L110.6 1.2 H119 L120 3.8 L112.6 4.4 Z" fill="#2aa8ff"/>
<path d="M109.1 2.6 L112.6 4.4 V11 L109.1 9.6 Z" fill="#0a8cf4"/>
<rect x="112.6" y="3.9" width="7.4" height="7" fill="#3cb2ff"/><path d="M112.6 4.4 V10.5" stroke="#d8f2ff" stroke-width="0.7"/>
<rect x="114.3" y="5.6" width="4.5" height="1.2" fill="#f4fbff"/>
<path d="M109.6 16.4 C105.9 16.4 106.2 11.6 109.8 12 C110.2 10.6 112 10.4 112.8 11.2 C113.6 8.6 117.6 8.6 118.2 11 C119.6 9.6 122.4 10.6 122 12.8 C123.8 13.6 123.2 16.4 121 16.4 Z" fill="url(#cloud)" stroke="#4a68a8" stroke-width="0.9"/>
<circle cx="143" cy="8.9" r="7.8" fill="#f6f6f0" opacity="0.9"/>
<path d="M143.2 8.9 V17 A8 8 0 0 0 151 8.9 A8 8 0 0 0 147.5 2.4 Z" fill="url(#sig)"/>
<g fill="none" stroke-linecap="round"><path d="M141 1.7 A7.5 7.5 0 0 0 141 16.1" stroke="#3a66d8" stroke-width="1.1" opacity="0.6"/><path d="M147 2.6 A7.5 7.5 0 0 1 147.6 14.8" stroke="#2a5a9a" stroke-width="1.1" opacity="0.5"/><path d="M141.6 4.4 A4.7 4.7 0 0 0 141.6 13.4" stroke="#4a74e0" stroke-width="1" opacity="0.5"/><path d="M145 4.6 A4.7 4.7 0 0 1 146.4 12.2" stroke="#3a70a8" stroke-width="1" opacity="0.35"/></g>
<circle cx="142.8" cy="8.7" r="2" fill="#2a50d0"/><rect x="143" y="9" width="1.4" height="8" fill="#18a020"/>
<path d="M162.2 8 L178 7.7 L171 16.8 L168.8 16.8 Z" fill="url(#yel)" stroke="#d8a010" stroke-width="0.7" stroke-linejoin="round"/>
<ellipse cx="170.1" cy="6" rx="7.9" ry="2.5" transform="rotate(-4 170.1 6)" fill="url(#hat)" stroke="#1c7eb0" stroke-width="0.8"/>
<path d="M166.3 5.6 C166 0.4 173.4 0.4 173.2 5.2 C171 6.4 168.4 6.4 166.3 5.6 Z" fill="url(#hat)" stroke="#1c7eb0" stroke-width="0.7"/>
<circle cx="174.6" cy="12.6" r="4.15" fill="url(#stp)"/><rect x="172.9" y="11.1" width="3.3" height="3" fill="#fff"/>
<text class="tb" x="183" y="12.2">自动交易</text>
<rect x="238" y="0" width="1" height="19.5" fill="#a0a0a0"/>
<rect x="239" y="0" width="1" height="20" fill="#fff"/>
<rect x="242" y="1" width="3" height="1" fill="#a0a0a0"/>
<rect x="242" y="3" width="3" height="1" fill="#a0a0a0"/>
<rect x="242" y="5" width="3" height="1" fill="#a0a0a0"/>
<rect x="242" y="7" width="3" height="1" fill="#a0a0a0"/>
<rect x="242" y="9" width="3" height="1" fill="#a0a0a0"/>
<rect x="242" y="11" width="3" height="1" fill="#a0a0a0"/>
<rect x="242" y="13" width="3" height="1" fill="#a0a0a0"/>
<rect x="242" y="15" width="3" height="1" fill="#a0a0a0"/>
<rect x="242" y="17" width="3" height="1" fill="#a0a0a0"/>
<g stroke="#505050" stroke-width="1.2" fill="#505050"><path d="M256.5 4 V16.8" fill="none"/><path d="M254.1 14.5 H266.6" fill="none"/><path d="M256.5 2.6 L258.3 5.3 L254.7 5.3 Z" stroke="none"/><path d="M268.1 14.5 L265.5 12.7 L265.5 16.3 Z" stroke="none"/></g>
<path d="M262.6 4.6 V12.4 M262.6 5.3 H265.2 M260 11.6 H262.6" stroke="#0a8a10" stroke-width="1.4" fill="none"/>
<rect x="276" y="0" width="1" height="19.5" fill="#a0a0a0"/>
<rect x="277" y="0" width="24.5" height="20" fill="url(#chk)"/>
<g stroke="#505050" stroke-width="1.2" fill="#505050"><path d="M284.29999999999995 4 V16.8" fill="none"/><path d="M281.9 14.5 H294.4" fill="none"/><path d="M284.29999999999995 2.6 L286.09999999999997 5.3 L282.5 5.3 Z" stroke="none"/><path d="M295.9 14.5 L293.29999999999995 12.7 L293.29999999999995 16.3 Z" stroke="none"/></g>
<rect x="290" y="1" width="1.2" height="11.8" fill="#0a7a10"/><rect x="288.4" y="3.8" width="4.4" height="6.8" fill="#3fdc4a" stroke="#0a8a10" stroke-width="1"/>
<g stroke="#505050" stroke-width="1.2" fill="#505050"><path d="M312.4 4 V16.8" fill="none"/><path d="M310 14.5 H322.5" fill="none"/><path d="M312.4 2.6 L314.2 5.3 L310.6 5.3 Z" stroke="none"/><path d="M324 14.5 L321.4 12.7 L321.4 16.3 Z" stroke="none"/></g>
<path d="M311.2 11.8 C314 10 315.5 6.2 317.2 6.2 C319 6.2 320.5 9.6 322.8 10.2" stroke="#2a9a30" stroke-width="1.3" fill="none"/>
<rect x="333" y="0" width="1" height="19.5" fill="#a0a0a0"/>
<path d="M352 11.4 L356.4 15.2" stroke="#b8860b" stroke-width="3" stroke-linecap="round"/><path d="M352.2 11.3 L356.2 14.9" stroke="#f2d24a" stroke-width="1.5" stroke-linecap="round"/>
<circle cx="348" cy="6.9" r="5.6" fill="url(#lens)" stroke="#2e7bc9" stroke-width="1.3"/>
<rect x="345" y="6.1" width="6" height="1.7" fill="#3a86c8"/>
<rect x="347.15" y="3.9" width="1.7" height="6" fill="#3a86c8"/>
<path d="M380 11.4 L384.4 15.2" stroke="#b8860b" stroke-width="3" stroke-linecap="round"/><path d="M380.2 11.3 L384.2 14.9" stroke="#f2d24a" stroke-width="1.5" stroke-linecap="round"/>
<circle cx="376" cy="6.9" r="5.6" fill="url(#lens)" stroke="#2e7bc9" stroke-width="1.3"/>
<rect x="373" y="6.1" width="6" height="1.7" fill="#3a86c8"/>
<rect x="398.2" y="1.3" width="7.8" height="7.7" fill="#3c9a1e"/><rect x="399.59999999999997" y="4.3" width="5.2" height="3.6" fill="#fff"/><rect x="400.4" y="5.7" width="3.6" height="1" fill="#3c9a1e" opacity="0.45"/><rect x="399.09999999999997" y="2.2" width="1" height="1" fill="#fff" opacity="0.8"/>
<rect x="406.2" y="1.3" width="7.8" height="7.7" fill="#1e4fd0"/><rect x="407.59999999999997" y="4.3" width="5.2" height="3.6" fill="#fff"/><rect x="408.4" y="5.7" width="3.6" height="1" fill="#1e4fd0" opacity="0.45"/><rect x="407.09999999999997" y="2.2" width="1" height="1" fill="#fff" opacity="0.8"/>
<rect x="398.2" y="9.2" width="7.8" height="7.7" fill="#1e4fd0"/><rect x="399.59999999999997" y="12.2" width="5.2" height="3.6" fill="#fff"/><rect x="400.4" y="13.6" width="3.6" height="1" fill="#1e4fd0" opacity="0.45"/><rect x="399.09999999999997" y="10.1" width="1" height="1" fill="#fff" opacity="0.8"/>
<rect x="406.2" y="9.2" width="7.8" height="7.7" fill="#3c9a1e"/><rect x="407.59999999999997" y="12.2" width="5.2" height="3.6" fill="#fff"/><rect x="408.4" y="13.6" width="3.6" height="1" fill="#3c9a1e" opacity="0.45"/><rect x="407.09999999999997" y="10.1" width="1" height="1" fill="#fff" opacity="0.8"/>
<rect x="423" y="0" width="1" height="19.5" fill="#a0a0a0"/>
<rect x="428" y="0" width="1" height="19.5" fill="#a0a0a0"/>
<rect x="429" y="0" width="24" height="20" fill="url(#chk)"/>
<g stroke="#505050" stroke-width="1.2" fill="#505050"><path d="M436.4 4 V16.8" fill="none"/><path d="M434 14.5 H446.5" fill="none"/><path d="M436.4 2.6 L438.2 5.3 L434.6 5.3 Z" stroke="none"/><path d="M448 14.5 L445.4 12.7 L445.4 16.3 Z" stroke="none"/></g>
<path d="M441.3 5.6 L445.2 8.6 L441.3 11.7 Z" fill="#7be07f" stroke="#0a9a18" stroke-width="1"/>
<rect x="456" y="0" width="1" height="19.5" fill="#a0a0a0"/>
<rect x="457" y="0" width="24" height="20" fill="url(#chk)"/>
<g stroke="#505050" stroke-width="1.2" fill="#505050"><path d="M464.4 4 V16.8" fill="none"/><path d="M462 14.5 H474.5" fill="none"/><path d="M464.4 2.6 L466.2 5.3 L462.6 5.3 Z" stroke="none"/><path d="M476 14.5 L473.4 12.7 L473.4 16.3 Z" stroke="none"/></g>
<rect x="469.9" y="3" width="1.4" height="10" fill="#1e6fb0"/><path d="M471.3 8.45 L474.6 5.9 L474 7.9 H476.3 V9 H474 L474.6 11 Z" fill="#e85000"/>
<rect x="485" y="0" width="1" height="19.5" fill="#a0a0a0"/>
<path d="M495.6 1.7 H504 L507 4.7 V14.5 H495.6 Z" fill="#fff" stroke="#808080" stroke-width="1"/><path d="M504 1.7 V4.7 H507" fill="#e8e8e8" stroke="#808080" stroke-width="0.8"/>
<path d="M499.5 5 h-1.6 v6.5 h1.6 M497.9 8.2 h1.2" stroke="#70705a" stroke-width="0.9" fill="none"/>
<path d="M503.5 7.6 h3.2 v3.8 h3.8 v3.2 h-3.8 v3.8 h-3.2 v-3.8 h-3.8 v-3.2 h3.8 Z" fill="url(#gp)" stroke="#0a8a10" stroke-width="1"/>
<path d="M516.9 8 L522.3 8 L519.6 11 Z" fill="#000"/>
<circle cx="541" cy="8.9" r="6.6" fill="#fff" stroke="url(#clk)" stroke-width="2.9"/><circle cx="541" cy="8.9" r="8" fill="none" stroke="#0d4fa8" stroke-width="0.6"/>
<path d="M540.7 5 V9.2 H543.8" stroke="#111" stroke-width="1.1" fill="none"/><g fill="#9aa4b4"><rect x="540.5" y="4.2" width="0.8" height="0.8"/><rect x="544.8" y="8.5" width="0.8" height="0.8"/><rect x="536.4" y="8.5" width="0.8" height="0.8"/><rect x="538" y="5.4" width="0.7" height="0.7"/><rect x="543.4" y="5.4" width="0.7" height="0.7"/><rect x="538" y="11.6" width="0.7" height="0.7"/><rect x="543.4" y="11.6" width="0.7" height="0.7"/></g><rect x="540" y="11.6" width="2" height="0.9" fill="#6aa8f0"/>
<path d="M555.9 8 L561.3 8 L558.6 11 Z" fill="#000"/>
<rect x="572.5" y="2.3" width="15.2" height="13.2" fill="#fff" stroke="#2a6cc0" stroke-width="1.1"/><rect x="573" y="2.6" width="14.2" height="2.4" fill="#3a7fd4"/><rect x="573" y="10" width="14.2" height="0.9" fill="#2a6cc0"/>
<path d="M574.3 8.4 H576.5 L578.3 6.8 H579.8 L581 7.6 H583 L584.5 6.5 H585.7" stroke="#a82000" stroke-width="1.1" fill="none"/>
<path d="M575 13.6 H576.8 L578.2 12.9 L579.8 13.7 L582.6 11.6 L583.6 11.8 L585.6 13.7" stroke="#108a18" stroke-width="1.1" fill="none"/>
<path d="M594.8 8 L600.1999999999999 8 L597.5 11 Z" fill="#000"/>
<rect x="606" y="0" width="1" height="21" fill="#a0a0a0"/>
<rect x="607" y="0" width="1" height="20" fill="#fff"/>
<rect x="610" y="1" width="3" height="1" fill="#a0a0a0"/>
<rect x="610" y="3" width="3" height="1" fill="#a0a0a0"/>
<rect x="610" y="5" width="3" height="1" fill="#a0a0a0"/>
<rect x="610" y="7" width="3" height="1" fill="#a0a0a0"/>
<rect x="610" y="9" width="3" height="1" fill="#a0a0a0"/>
<rect x="610" y="11" width="3" height="1" fill="#a0a0a0"/>
<rect x="610" y="13" width="3" height="1" fill="#a0a0a0"/>
<rect x="610" y="15" width="3" height="1" fill="#a0a0a0"/>
<rect x="610" y="17" width="3" height="1" fill="#a0a0a0"/>
<rect x="616" y="0" width="1" height="19.5" fill="#a0a0a0"/>
<rect x="617" y="0" width="24" height="20" fill="url(#chk)"/>
<path d="M624.1 2 V13.2 L626.8 10.8 L629 15.8 L630.9 14.9 L628.7 10 H632 Z" fill="#505050"/>
<path d="M649 9.5 H655.3 M657.7 9.5 H664.2 M656.5 2.3 V8.3 M656.5 10.7 V16.8" stroke="#505050" stroke-width="1.3" fill="none"/><rect x="656" y="9" width="1" height="1" fill="#888"/>
<rect x="673" y="0" width="1" height="19.5" fill="#a0a0a0"/>
<path d="M690.5 3 V16 M713 9.5 H725 M741 15.9 L753 3.7" stroke="#505050" stroke-width="1.3" fill="none"/>
<g stroke="#505050" stroke-width="1.25" fill="none"><path d="M767 10.6 L775.2 3"/><path d="M768.2 15.4 L781 4.2"/><path d="M772 16 L781.4 7.8"/><path d="M770.2 8.2 L769.8 14 M772.8 6 L772.2 12.3 M775.4 3.8 L774.8 10 M778.4 1.4 L778 7.2"/></g>
<text class="lib" x="777.8" y="17.9" style="font-size:7px;font-weight:bold;fill:#3a3a3a;stroke:none;letter-spacing:0">E</text>
<line x1="796" y1="2.5" x2="809.4" y2="2.5" stroke="#505050" stroke-width="1" stroke-dasharray="1 1"/>
<line x1="796" y1="5.5" x2="809.4" y2="5.5" stroke="#505050" stroke-width="1" stroke-dasharray="1 1"/>
<line x1="796" y1="9.6" x2="809.4" y2="9.6" stroke="#505050" stroke-width="1" stroke-dasharray="1 1"/>
<line x1="796" y1="13.7" x2="805" y2="13.7" stroke="#505050" stroke-width="1" stroke-dasharray="1 1"/>
<text class="lib" x="805.8" y="17.9" style="font-size:7px;font-weight:bold;fill:#3a3a3a;stroke:none;letter-spacing:0">F</text>
<text class="lib" x="826.4" y="14" style="font-size:12.6px;fill:#505050;stroke:#505050;stroke-width:0.25">A</text>
<path d="M853 3.5 H865 M853 15.5 H865 M853.5 3 V16 M864.5 3 V16" fill="none" stroke="#505050" stroke-width="1" stroke-dasharray="1.1 1.1"/><rect x="852.6" y="2.4" width="2" height="1.2" fill="#505050"/>
<path d="M855 6.6 H862.8 M858.9 6.6 V14" stroke="#505050" stroke-width="1.5" fill="none"/>
<path d="M883.4 2.6 L887 6 H885.4 L883.4 7.8 L881.4 6 H879.8 Z" fill="#505050"/><path d="M890.6 16.2 L887 12.8 H888.6 L890.6 11 L892.6 12.8 H894.2 Z" fill="#505050"/>
<path d="M882.6 10.8 L884.8 12.6 L889.4 7.4" stroke="#505050" stroke-width="1.5" fill="none"/>
<path d="M900.8 8 L906.1999999999999 8 L903.5 11 Z" fill="#000"/>
<rect x="912" y="0" width="1" height="21" fill="#a0a0a0"/>
<rect x="913" y="0" width="1" height="20" fill="#fff"/>
<rect x="916" y="1" width="3" height="1" fill="#a0a0a0"/>
<rect x="916" y="3" width="3" height="1" fill="#a0a0a0"/>
<rect x="916" y="5" width="3" height="1" fill="#a0a0a0"/>
<rect x="916" y="7" width="3" height="1" fill="#a0a0a0"/>
<rect x="916" y="9" width="3" height="1" fill="#a0a0a0"/>
<rect x="916" y="11" width="3" height="1" fill="#a0a0a0"/>
<rect x="916" y="13" width="3" height="1" fill="#a0a0a0"/>
<rect x="916" y="15" width="3" height="1" fill="#a0a0a0"/>
<rect x="916" y="17" width="3" height="1" fill="#a0a0a0"/>
<rect x="1062" y="0" width="1" height="19.5" fill="#a0a0a0"/>
<rect x="1063" y="0" width="24.5" height="20" fill="url(#chk)"/>
<text class="tf" x="927.6" y="12.3">M1</text>
<text class="tf" x="955.5" y="12.3">M5</text>
<text class="tf" x="981.3" y="12.3">M15</text>
<text class="tf" x="1009.2" y="12.3">M30</text>
<text class="tf" x="1040.5" y="12.3">H1</text>
<text class="tf" x="1067.3" y="12.3">H4</text>
<text class="tf" x="1096.3" y="12.3">D1</text>
<text class="tf" x="1124" y="12.3">W1</text>
<text class="tf" x="1150.2" y="12.3">MN</text>
<rect x="1173" y="0" width="1" height="21" fill="#a0a0a0"/>
<path d="M1641.2 9.4 L1636 14" stroke="#1e4fd0" stroke-width="2.2" stroke-linecap="round"/><circle cx="1643.6" cy="6.6" r="3.7" fill="#f4f6ff" stroke="#2a5ad8" stroke-width="1.3"/>
<path d="M1660.5 11.3 C1660.5 4.8 1672.5 4.8 1672.5 11.3 C1672.5 14.8 1668 15.8 1665.5 15.3 L1663 17.4 L1663.4 14.8 C1661.5 14 1660.5 12.8 1660.5 11.3 Z" fill="#f0f0f4" stroke="#bcbcc4" stroke-width="0.9"/>
<circle cx="1674.6" cy="6.4" r="8.4" fill="url(#badge)"/>
<text class="lib" x="1671" y="11.2" style="font-size:13px;fill:#fff;stroke:#fff;stroke-width:0.3px">1</text>
</svg></body></html>
